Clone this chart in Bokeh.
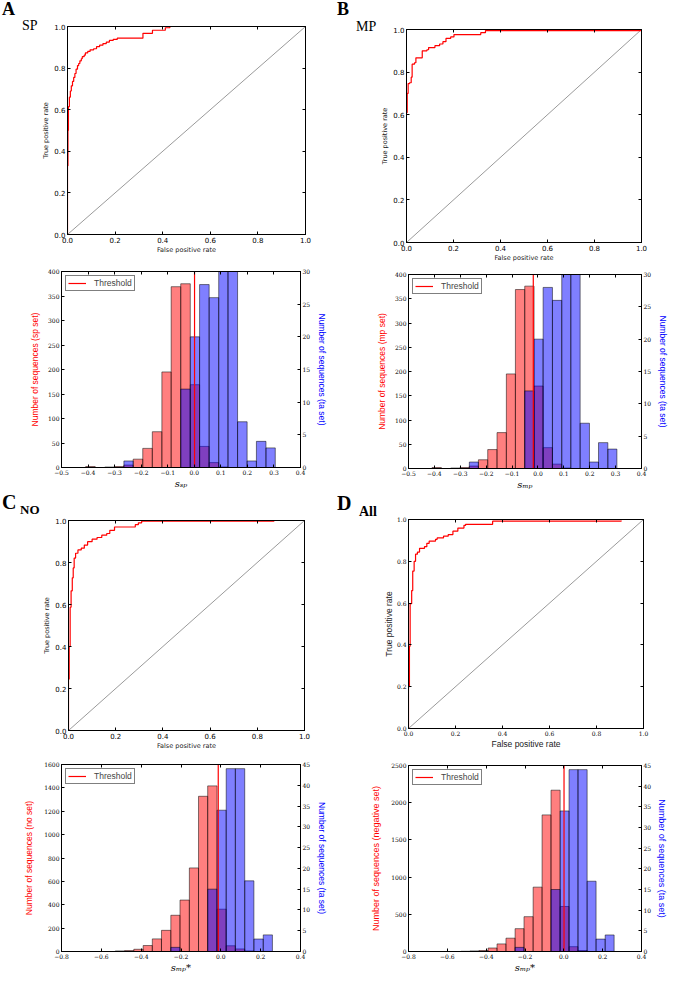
from bokeh.plotting import figure
from bokeh.layouts import row, column
from bokeh.models import (Range1d, LinearAxis, FixedTicker, CustomJSTickFormatter,
                          PrintfTickFormatter, Div, Legend, LegendItem)
from bokeh.embed import file_html
from bokeh.resources import INLINE

# ---------------- ROC data ----------------
fpr_sp = [0.0, 0.0, 0.002, 0.004, 0.008, 0.012, 0.016, 0.021, 0.026, 0.031,
          0.036, 0.042, 0.047, 0.052, 0.058, 0.062, 0.070, 0.075, 0.085, 0.095,
          0.110, 0.122, 0.135, 0.149, 0.163, 0.176, 0.192, 0.209, 0.297, 0.317,
          0.350, 0.357, 0.404, 0.411, 0.430, 1.0]
tpr_sp = [0.0, 0.33, 0.50, 0.615, 0.66, 0.69, 0.715, 0.736, 0.755, 0.774,
          0.795, 0.812, 0.822, 0.835, 0.845, 0.855, 0.862, 0.873, 0.880, 0.888,
          0.893, 0.903, 0.910, 0.918, 0.925, 0.933, 0.938, 0.944, 0.944, 0.967,
          0.967, 0.982, 0.982, 0.994, 1.0, 1.0]

fpr_mp = [0.0, 0.003, 0.007, 0.013, 0.020, 0.024, 0.034, 0.040, 0.060, 0.067,
          0.087, 0.094, 0.114, 0.121, 0.141, 0.155, 0.168, 0.188, 0.202, 0.310,
          0.316, 0.336, 1.0]
tpr_mp = [0.61, 0.70, 0.746, 0.75, 0.776, 0.837, 0.844, 0.867, 0.867, 0.90,
          0.905, 0.915, 0.915, 0.924, 0.932, 0.943, 0.958, 0.965, 0.976, 0.976,
          0.985, 0.995, 0.995]

fpr_no = [0.0, 0.0, 0.003, 0.007, 0.011, 0.016, 0.020, 0.024, 0.030, 0.040,
          0.054, 0.067, 0.081, 0.100, 0.121, 0.141, 0.162, 0.175, 0.195, 0.283,
          0.296, 0.310, 0.872]
tpr_no = [0.0, 0.245, 0.40, 0.587, 0.665, 0.727, 0.774, 0.821, 0.844, 0.860,
          0.868, 0.883, 0.899, 0.911, 0.919, 0.930, 0.938, 0.953, 0.969, 0.980,
          0.989, 0.997, 0.997]

fpr_all = [0.0, 0.0, 0.004, 0.007, 0.0135, 0.018, 0.024, 0.030, 0.038, 0.047,
           0.068, 0.078, 0.088, 0.115, 0.122, 0.149, 0.169, 0.189, 0.210, 0.236,
           0.243, 0.324, 0.358, 0.905]
tpr_all = [0.0, 0.2, 0.394, 0.597, 0.66, 0.753, 0.80, 0.834, 0.844, 0.862,
           0.87, 0.886, 0.897, 0.905, 0.912, 0.92, 0.928, 0.944, 0.959, 0.972,
           0.977, 0.977, 0.992, 0.995]

diag = [0.0, 1.0]
roc_ticks = [0.0, 0.2, 0.4, 0.6, 0.8, 1.0]

# ---------------- Histogram data ----------------
edges_sp = [-0.409, -0.373, -0.337, -0.301, -0.265, -0.230, -0.194, -0.158, -0.122, -0.087,
            -0.051, -0.015, 0.020, 0.056, 0.092, 0.127, 0.163, 0.199, 0.234, 0.270, 0.305]
count_sp_set = [2, 0, 1, 2, 5, 17, 39, 73, 195, 369, 375, 169, 43, 10, 1, 0, 0, 0, 0, 0]
count_ta_sp = [0, 0, 0, 0, 1, 0, 0, 0, 0, 0, 12, 20, 28, 26, 30, 30, 7, 1, 4, 3]
threshold_sp = 0.001

edges_mp = [-0.409, -0.373, -0.337, -0.301, -0.265, -0.230, -0.194, -0.158, -0.122, -0.087,
            -0.051, -0.015, 0.020, 0.056, 0.092, 0.127, 0.163, 0.199, 0.234, 0.270, 0.305]
count_mp_set = [2, 0, 1, 2, 5, 18, 39, 74, 195, 369, 376, 170, 43, 9, 1, 0, 0, 0, 0, 0]
count_ta_mp = [0, 0, 0, 0, 1, 0, 0, 0, 0, 0, 12, 20, 28, 26, 30, 30, 7, 1, 4, 3]
threshold_mp = -0.018

edges_no = [-0.530, -0.483, -0.437, -0.390, -0.344, -0.298, -0.251, -0.205, -0.158,
            -0.112, -0.066, -0.019, 0.027, 0.073, 0.120, 0.166, 0.213, 0.259]
count_no_set = [5, 8, 19, 51, 108, 181, 310, 440, 715, 1328, 1417, 362, 49, 22, 5, 0, 1]
count_ta_no = [0, 0, 0, 0, 0, 0, 1, 0, 0, 0, 15, 34, 44, 44, 17, 3, 4]
threshold_no = -0.013

edges_all = [-0.530, -0.483, -0.437, -0.390, -0.344, -0.298, -0.251, -0.205, -0.158,
             -0.112, -0.066, -0.019, 0.027, 0.073, 0.120, 0.166, 0.213, 0.259]
count_neg_set = [3, 8, 13, 47, 102, 179, 307, 468, 865, 1836, 2168, 605, 65, 13, 0, 0, 2]
count_ta_all = [0, 0, 0, 0, 0, 0, 1, 0, 0, 0, 15, 34, 44, 44, 17, 3, 4]
threshold_all = 0.001

xticks_ab = [-0.5, -0.4, -0.3, -0.2, -0.1, 0.0, 0.1, 0.2, 0.3, 0.4]
xticks_cd = [-0.8, -0.6, -0.4, -0.2, 0.0, 0.2, 0.4]
yticks_ab = [0, 50, 100, 150, 200, 250, 300, 350, 400]
yticks_c = [0, 200, 400, 600, 800, 1000, 1200, 1400, 1600]
yticks_d = [0, 500, 1000, 1500, 2000, 2500]
yticks_ta_ab = [0, 5, 10, 15, 20, 25, 30]
yticks_ta_cd = [0, 5, 10, 15, 20, 25, 30, 35, 40, 45]

MINUS_FMT = CustomJSTickFormatter(code="return (tick < 0 ? '\u2212' : '') + Math.abs(tick).toFixed(1);")


def style_axis(ax, tick_font, tick_size, lab_font, lab_size, lab_color="black",
               lab_style="normal", lab_standoff=2):
    ax.major_tick_in = 3
    ax.major_tick_out = 0
    ax.minor_tick_line_color = None
    ax.axis_line_color = "black"
    ax.major_tick_line_color = "black"
    ax.major_label_text_font = tick_font
    ax.major_label_text_font_size = tick_size
    ax.major_label_text_color = "black"
    ax.major_label_standoff = 2
    ax.axis_label_text_font = lab_font
    ax.axis_label_text_font_size = lab_size
    ax.axis_label_text_color = lab_color
    ax.axis_label_text_font_style = lab_style
    ax.axis_label_standoff = lab_standoff


def mirror_axis(p, side, ticks, range_name="default"):
    """Tick marks only (no labels) on the top / right frame edge, as matplotlib draws."""
    if side == "right":
        ax = LinearAxis(ticker=FixedTicker(ticks=ticks), y_range_name=range_name)
    else:
        ax = LinearAxis(ticker=FixedTicker(ticks=ticks))
    ax.formatter = CustomJSTickFormatter(code="return '';")
    ax.major_tick_in = 3
    ax.major_tick_out = 0
    ax.minor_tick_line_color = None
    ax.major_label_standoff = 0
    ax.axis_line_color = "black"
    p.add_layout(ax, side)


def base_fig(w, h, bl, br, bt, bb, xr, yr):
    p = figure(width=w, height=h, output_backend="svg", toolbar_location=None,
               x_range=Range1d(xr[0], xr[1]), y_range=Range1d(yr[0], yr[1]),
               min_border_left=bl, min_border_right=br, min_border_top=bt,
               min_border_bottom=bb)
    p.grid.visible = False
    p.outline_line_color = "black"
    p.outline_line_width = 1
    p.background_fill_color = "white"
    p.border_fill_color = "white"
    return p


def span(text, left, top, size, bold):
    return ('<span style="position:absolute;white-space:nowrap;left:%spx;top:%spx;'
            'font-family:\'Liberation Serif\',serif;font-size:%spx;line-height:1;'
            'font-weight:%s;color:black;">%s</span>'
            % (left, top, size, "bold" if bold else "normal", text))


def tag_div(w, h, letter, lx, lt, lsize, sub, sx, st, ssize, sbold):
    html = ('<div style="position:relative;width:%spx;height:%spx;">' % (w, h)
            + span(letter, lx, lt, lsize, True) + span(sub, sx, st, ssize, sbold) + '</div>')
    return Div(text=html, width=w, height=h, margin=(0, 0, 0, 0),
               styles={"overflow": "visible", "padding": "0px"})


def make_roc(w, h, bl, br, bt, bb, fpr, tpr, tick_font, tick_size, lab_font, lab_size,
             xstand, ystand):
    p = base_fig(w, h, bl, br, bt, bb, (0, 1), (0, 1))
    p.line(diag, diag, line_color="#9a9a9a", line_width=1)
    p.step(fpr, tpr, mode="after", line_color="red", line_width=1.2)
    xb = p.below[0]
    yl = p.left[0]
    xb.ticker = FixedTicker(ticks=roc_ticks)
    yl.ticker = FixedTicker(ticks=roc_ticks)
    xb.formatter = PrintfTickFormatter(format="%.1f")
    yl.formatter = PrintfTickFormatter(format="%.1f")
    xb.axis_label = "False positive rate"
    yl.axis_label = "True positive rate"
    style_axis(xb, tick_font, tick_size, lab_font, lab_size, "#222222", lab_standoff=xstand)
    style_axis(yl, tick_font, tick_size, lab_font, lab_size, "#222222", lab_standoff=ystand)
    mirror_axis(p, "above", roc_ticks)
    mirror_axis(p, "right", roc_ticks)
    return p


def make_hist(w, h, bl, br, bt, bb, edges, neg, pos, thr, xr, ymax_l, ymax_r,
              xticks, yticks_l, yticks_r, ylab_l, ylab_r, xlab, lab_size,
              lstand, rstand):
    p = base_fig(w, h, bl, br, bt, bb, xr, (0, ymax_l))
    p.extra_y_ranges = {"ta": Range1d(0, ymax_r)}
    left = edges[:-1]
    right = edges[1:]
    p.quad(left=left, right=right, bottom=0, top=neg, fill_color="red", fill_alpha=0.5,
           line_color="black", line_alpha=0.5, line_width=1)
    p.quad(left=left, right=right, bottom=0, top=pos, y_range_name="ta",
           fill_color="blue", fill_alpha=0.5, line_color="black", line_alpha=0.5,
           line_width=1)
    thr_line = p.line(x=[thr, thr], y=[0, ymax_l], line_color="#ff0000", line_width=1.2)
    xb = p.below[0]
    yl = p.left[0]
    rax = LinearAxis(y_range_name="ta")
    p.add_layout(rax, "right")
    xb.ticker = FixedTicker(ticks=xticks)
    xb.formatter = MINUS_FMT
    yl.ticker = FixedTicker(ticks=yticks_l)
    rax.ticker = FixedTicker(ticks=yticks_r)
    xb.axis_label = xlab
    yl.axis_label = ylab_l
    rax.axis_label = ylab_r
    style_axis(xb, "DejaVu Serif", "6px", "DejaVu Serif", "10px",
               "black", "italic", lab_standoff=0)
    style_axis(yl, "DejaVu Serif", "6px", "Liberation Sans", lab_size,
               "#ff0000", lab_standoff=lstand)
    style_axis(rax, "DejaVu Serif", "6px", "Liberation Sans", lab_size,
               "#0000ff", lab_standoff=rstand)
    mirror_axis(p, "above", xticks)
    lg = Legend(items=[LegendItem(label="Threshold", renderers=[thr_line])],
                location="top_left", margin=4, padding=2, spacing=0,
                label_text_font="Liberation Sans", label_text_font_size="8.5px",
                label_height=8, glyph_height=8, glyph_width=18, label_standoff=8,
                border_line_color="black", border_line_width=1,
                background_fill_color="white", background_fill_alpha=1.0)
    p.add_layout(lg)
    return p


# ---------------- Panel A ----------------
tag_a = tag_div(39, 256, "A", 2, 0, 18, "SP", 22, 19, 14, False)
roc_a = make_roc(298, 256, 22, 32, 26, 20, fpr_sp, tpr_sp, "DejaVu Sans", "7px",
                 "DejaVu Sans", "6.5px", 0, 1)
hist_a = make_hist(337, 236, 61, 32, 15, 25, edges_sp, count_sp_set, count_ta_sp,
                   threshold_sp, (-0.5, 0.4), 400, 30, xticks_ab, yticks_ab, yticks_ta_ab,
                   "Number of sequences (sp set)", "Number of sequences (ta set)",
                   "s\u209b\u209a", "8.5px", 5, 4)

# ---------------- Panel B ----------------
tag_b = tag_div(41, 264, "B", 0, 0, 18, "MP", 19, 20, 14, False)
roc_b = make_roc(293, 264, 21, 30, 29, 20, fpr_mp, tpr_mp, "DejaVu Sans", "7px",
                 "DejaVu Sans", "6.5px", 0, 1)
hist_b = make_hist(334, 229, 64, 26, 10, 25, edges_mp, count_mp_set, count_ta_mp,
                   threshold_mp, (-0.5, 0.4), 400, 30, xticks_ab, yticks_ab, yticks_ta_ab,
                   "Number of sequences (mp set)", "Number of sequences (ta set)",
                   "s\u2098\u209a", "8.5px", 5, 4)

# ---------------- Panel C ----------------
tag_c = tag_div(40, 260, "C", 2, 0, 20, "NO", 20, 11, 13, True)
roc_c = make_roc(297, 260, 21, 33, 28, 22, fpr_no, tpr_no, "DejaVu Sans", "7px",
                 "DejaVu Sans", "6.5px", 0, 1)
hist_c = make_hist(337, 224, 61, 37, 12, 25, edges_no, count_no_set, count_ta_no,
                   threshold_no, (-0.8, 0.4), 1600, 45, xticks_cd, yticks_c, yticks_ta_cd,
                   "Number of sequences (no set)", "Number of sequences (ta set)",
                   "s\u2098\u209a*", "8.5px", 7, 4)

# ---------------- Panel D ----------------
tag_d = tag_div(43, 258, "D", 0, 0, 20, "All", 22, 12, 14, True)
roc_d = make_roc(291, 258, 22, 28, 26, 22, fpr_all, tpr_all, "DejaVu Serif", "6px",
                 "Liberation Sans", "8.5px", 0, 0)
hist_d = make_hist(334, 225, 71, 25, 14, 25, edges_all, count_neg_set, count_ta_all,
                   threshold_all, (-0.8, 0.4), 2500, 45, xticks_cd, yticks_d, yticks_ta_cd,
                   "Number of sequences (negative set)", "Number of sequences (ta set)",
                   "s\u2098\u209a*", "9px", 7, 3)

left_col = column(row(tag_a, roc_a, spacing=0), hist_a,
                  row(tag_c, roc_c, spacing=0), hist_c, spacing=0)
right_col = column(row(tag_b, roc_b, spacing=0), hist_b,
                   row(tag_d, roc_d, spacing=0), hist_d, spacing=0)
layout = row(left_col, right_col, spacing=0)

open("out.html", "w").write(file_html(layout, INLINE))
